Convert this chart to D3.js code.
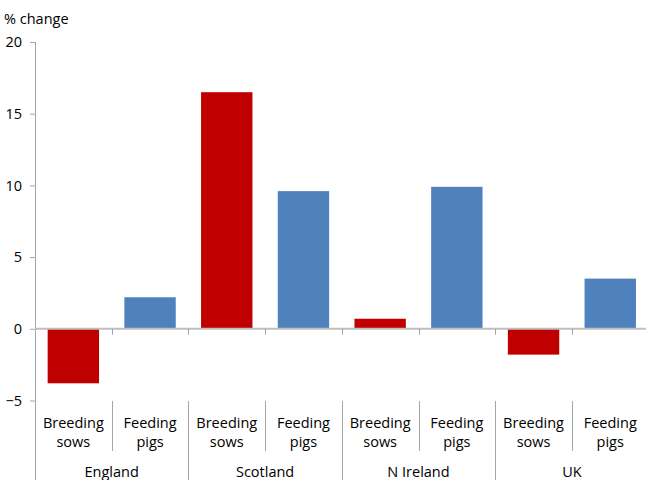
<!DOCTYPE html>
<html><head><meta charset="utf-8">
<script src="https://cdn.jsdelivr.net/npm/d3@7"></script>
<style>
html,body{margin:0;padding:0;background:#fff;}
svg{display:block;}
text{font-family:"Open Sans",sans-serif;fill:#000;}
</style></head>
<body><svg id="c" width="646" height="480"></svg>
<script>
const regions = ["England", "Scotland", "N Ireland", "UK"];
const subLabels = [["Breeding", "sows"], ["Feeding", "pigs"]];
const breedingSows = [-3.8, 16.5, 0.7, -1.8];
const feedingPigs = [2.2, 9.6, 9.9, 3.5];
const yTicks = [-5, 0, 5, 10, 15, 20];
const yTitle = "% change";

const colors = ["#C00000", "#4F81BD"];
const series = [breedingSows, feedingPigs];

const rows = [];
regions.forEach((r, i) => {
  series.forEach((s, j) => rows.push({key: r + "|" + j, region: r, sub: j, value: s[i]}));
});

const svg = d3.select("#c");
const pLeft = 35, pRight = 648.6, pTop = 42, pBottom = 400.5;
const x = d3.scaleBand().domain(rows.map(d => d.key)).range([pLeft, pRight])
  .paddingInner(0.33).paddingOuter(0.165);
const y = d3.scaleLinear().domain([-5, 20]).range([pBottom, pTop]);
const axisColor = "#A6A6A6";

// bars
svg.append("g").selectAll("rect").data(rows).join("rect")
  .attr("x", d => x(d.key))
  .attr("width", x.bandwidth())
  .attr("y", d => y(Math.max(0, d.value)))
  .attr("height", d => Math.abs(y(d.value) - y(0)))
  .attr("fill", d => colors[d.sub]);

// y axis
const yAxis = d3.axisLeft(y).tickValues(yTicks).tickSize(5).tickPadding(8).tickFormat(d3.format("d"));
const gy = svg.append("g").attr("transform", `translate(${pLeft},0)`).call(yAxis);
gy.select(".domain").remove();
gy.selectAll(".tick line").attr("stroke", axisColor);
gy.selectAll(".tick text").style("font-size", "14.5px").style("font-family", "Open Sans").attr("fill", "#000");
svg.append("line").attr("x1", pLeft + 0.5).attr("x2", pLeft + 0.5).attr("y1", pTop).attr("y2", 480)
  .attr("stroke", axisColor).attr("stroke-width", 1);

// zero line
svg.append("line").attr("x1", pLeft).attr("x2", 646).attr("y1", y(0)).attr("y2", y(0))
  .attr("stroke", "#BFBFBF").attr("stroke-width", 2);

// tick marks at category boundaries on zero line
const step = x.step();
const boundaries = d3.range(1, rows.length).map(i => pLeft + i * step);
svg.append("g").selectAll("line").data(boundaries).join("line")
  .attr("x1", d => Math.round(d) + 0.5).attr("x2", d => Math.round(d) + 0.5)
  .attr("y1", y(0)).attr("y2", y(0) + 6)
  .attr("stroke", axisColor);

// category axis separators
const sepTop = 401, subBottom = 451;
svg.append("g").selectAll("line").data(boundaries).join("line")
  .attr("x1", d => Math.round(d) + 0.5).attr("x2", d => Math.round(d) + 0.5)
  .attr("y1", sepTop).attr("y2", (d, i) => (i % 2 === 1) ? 480 : subBottom)
  .attr("stroke", axisColor);

// sub labels
const subG = svg.append("g").selectAll("text").data(rows).join("text")
  .attr("text-anchor", "middle").style("font-size", "14.5px")
  .attr("x", d => x(d.key) + x.bandwidth() / 2);
subG.append("tspan").attr("x", d => x(d.key) + x.bandwidth() / 2).attr("y", 428).text(d => subLabels[d.sub][0]);
subG.append("tspan").attr("x", d => x(d.key) + x.bandwidth() / 2).attr("y", 447).text(d => subLabels[d.sub][1]);

// region labels
svg.append("g").selectAll("text").data(regions).join("text")
  .attr("text-anchor", "middle").style("font-size", "14.5px")
  .attr("x", (d, i) => pLeft + step * (2 * i + 1))
  .attr("y", 477).text(d => d);

// y title
svg.append("text").attr("x", 4).attr("y", 24).style("font-size", "14.5px").text(yTitle);
</script></body></html>
